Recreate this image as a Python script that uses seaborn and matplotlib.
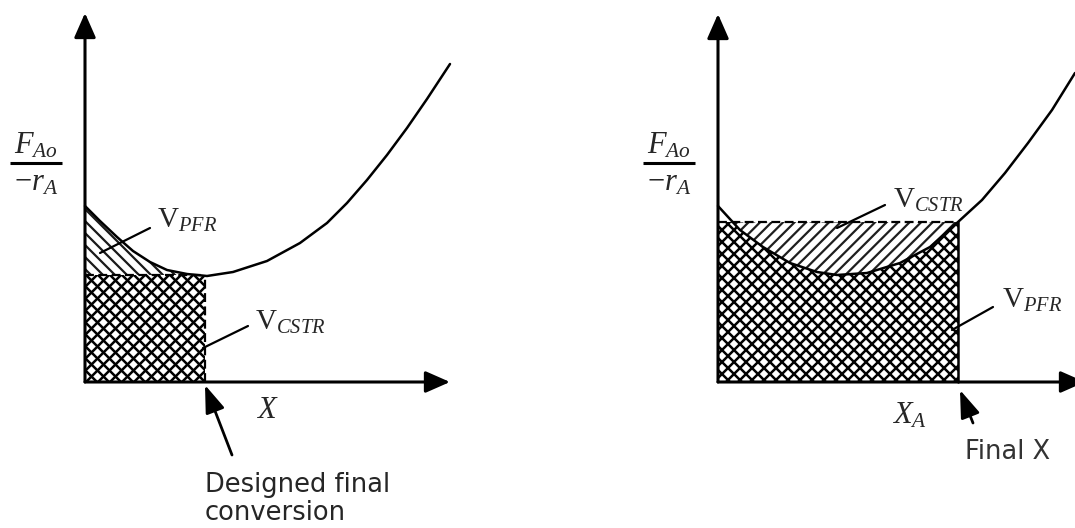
import numpy as np
import matplotlib
matplotlib.use('Agg')
import matplotlib.pyplot as plt
import seaborn as sns

# =============================================================================
# DATOS (unidades arbitrarias ~ px)
# =============================================================================
# Curva F_Ao/(-r_A) vs X, panel izquierdo
x_izq = [0, 15, 32, 48, 65, 82, 102, 122, 148, 182, 215, 242, 262, 282, 302, 322, 342, 365]
y_izq = [176, 161, 145, 131, 120, 112, 108, 106, 110, 121, 139, 159, 179, 202, 227, 254, 283, 318]
x_final_izq = 120      # conversion final de diseno
y_cstr_izq = 107       # altura del rectangulo CSTR

# Curva panel derecho
x_der = [0, 22, 45, 72, 99, 119, 149, 182, 212, 240, 264, 287, 310, 334, 357]
y_der = [176, 152, 135, 119, 110, 107, 109, 119, 135, 160, 182, 209, 239, 272, 309]
x_final_der = 240
y_cstr_der = 160

# puntas de los ejes (x, y)
x_tope = [365, 367]
y_tope = [369, 368]

sns.set_style('white')
plt.rcParams['font.family'] = ['DejaVu Sans']
plt.rcParams['mathtext.fontset'] = 'custom'
plt.rcParams['mathtext.rm'] = 'Liberation Serif'
plt.rcParams['mathtext.it'] = 'Liberation Serif:italic'
plt.rcParams['mathtext.bf'] = 'Liberation Serif:bold'

fig = plt.figure(figsize=(10.75, 5.28), dpi=100)
ax_izq = fig.add_axes([0, 0, 537 / 1075, 1])
ax_der = fig.add_axes([537 / 1075, 0, 538 / 1075, 1])
ax_izq.set_xlim(-85, 452)
ax_der.set_xlim(-181, 357)
for ax in (ax_izq, ax_der):
    ax.set_ylim(-146, 382)
    ax.axis('off')

GROSOR_EJE = 2.2
SERIF = 21


def rayado(ax, region, pendiente, paso, lw, z, color='black'):
    # lineas a 45 grados recortadas con la region
    path = region.get_paths()[0]
    ext = path.get_extents()
    span = ext.width + ext.height
    for c in np.arange(ext.x0 - span, ext.x1 + span, paso):
        xs = np.array([c, c + span])
        ys = ext.y0 + pendiente * (xs - c) if pendiente > 0 else ext.y1 + pendiente * (xs - c)
        ln, = ax.plot(xs, ys, color=color, lw=lw, zorder=z, solid_capstyle='butt')
        ln.set_clip_path(path, ax.transData)


def cuadriculado(ax, region, paso, lw, z):
    rayado(ax, region, 1, paso, lw, z)
    rayado(ax, region, -1, paso, lw, z)


def dibujar_ejes(ax, x_tip, y_tip):
    flecha = dict(arrowstyle='-|>,head_length=1.25,head_width=0.55', lw=GROSOR_EJE,
                  color='black', shrinkA=0, shrinkB=0, mutation_scale=12)
    ax.annotate('', xy=(x_tip, 0), xytext=(0, 0), arrowprops=flecha,
                annotation_clip=False, zorder=6)
    ax.annotate('', xy=(0, y_tip), xytext=(0, 0), arrowprops=flecha,
                annotation_clip=False, zorder=6)


def etiqueta_y(ax):
    ax.plot([-75, -23], [219, 219], color='black', lw=2.2, solid_capstyle='butt')
    ax.text(-49, 222, r'$F_{Ao}$', ha='center', va='bottom', fontsize=SERIF + 1)
    ax.text(-49, 214, r'$-r_A$', ha='center', va='top', fontsize=SERIF + 1)


def leader(ax, p0, p1):
    ax.plot([p0[0], p1[0]], [p0[1], p1[1]], color='black', lw=1.6, zorder=5)


def flecha_nota(ax, tip, cola):
    ax.annotate('', xy=tip, xytext=cola,
                arrowprops=dict(arrowstyle='-|>,head_length=1.4,head_width=0.5', lw=2,
                                color='black', shrinkA=0, shrinkB=0, mutation_scale=12),
                annotation_clip=False)


# =============================================================================
# PANEL IZQUIERDO
# =============================================================================
xi = np.array(x_izq)
yi = np.array(y_izq)
ax = ax_izq
rect = ax.fill_between([0, x_final_izq], 0, y_cstr_izq, color='white', linewidth=0, zorder=1)
cuadriculado(ax, rect, 12, 1.8, 1.5)
m = xi <= x_final_izq
zona_pfr = ax.fill_between(xi[m], y_cstr_izq, yi[m], color='white', linewidth=0, zorder=1)
rayado(ax, zona_pfr, -1, 12, 1.6, 1.5, color='#1a1a1a')
ax.plot([0, x_final_izq], [y_cstr_izq, y_cstr_izq], color='black', lw=1.6, ls=(0, (4, 2)), zorder=4)
ax.plot([x_final_izq, x_final_izq], [0, y_cstr_izq], color='black', lw=1.6, ls=(0, (4, 2)), zorder=4)
sns.lineplot(x=x_izq, y=y_izq, ax=ax, color='black', lw=1.8, zorder=4)
dibujar_ejes(ax, x_tope[0], y_tope[0])
etiqueta_y(ax)

ax.text(72, 162, r'$\mathrm{V}_{PFR}$', ha='left', va='center', fontsize=SERIF)
leader(ax, (15, 129), (65, 154))
ax.text(170, 60, r'$\mathrm{V}_{CSTR}$', ha='left', va='center', fontsize=SERIF)
leader(ax, (118, 34), (163, 56))
ax.text(182, -27, r'$X$', ha='center', va='center', fontsize=SERIF + 1)

flecha_nota(ax, (120, -3), (147, -73))
ax.text(120, -90, 'Designed final\nconversion', ha='left', va='top', fontsize=18.5,
        color='#262626', linespacing=1.1)

# =============================================================================
# PANEL DERECHO
# =============================================================================
xd = np.array(x_der)
yd = np.array(y_der)
ax = ax_der
rect = ax.fill_between([0, x_final_der], 0, y_cstr_der, color='white', linewidth=0, zorder=1)
cuadriculado(ax, rect, 12, 1.8, 1.5)
m = xd <= x_final_der
zona_cstr = ax.fill_between(xd[m], yd[m], y_cstr_der, where=yd[m] <= y_cstr_der,
                            interpolate=True, color='white', linewidth=0, zorder=2)
rayado(ax, zona_cstr, 1, 11.5, 1.6, 2.5, color='#1f1f1f')
ax.plot([0, x_final_der], [y_cstr_der, y_cstr_der], color='black', lw=1.6, ls=(0, (4, 2)), zorder=4)
ax.plot([x_final_der, x_final_der], [0, y_cstr_der], color='black', lw=1.8, zorder=4)
sns.lineplot(x=x_der, y=y_der, ax=ax, color='black', lw=1.8, zorder=4)
dibujar_ejes(ax, x_tope[1], y_tope[1])
etiqueta_y(ax)

ax.text(175, 182, r'$\mathrm{V}_{CSTR}$', ha='left', va='center', fontsize=SERIF)
leader(ax, (119, 154), (167, 177))
ax.text(284, 82, r'$\mathrm{V}_{PFR}$', ha='left', va='center', fontsize=SERIF)
leader(ax, (234, 52), (275, 75))
ax.text(174, -33, r'$X_A$', ha='left', va='center', fontsize=SERIF + 1)

flecha_nota(ax, (242, -8), (255, -41))
ax.text(247, -70, 'Final X', ha='left', va='center', fontsize=18.5, color='#333333')

fig.savefig('out.png', dpi=100)
